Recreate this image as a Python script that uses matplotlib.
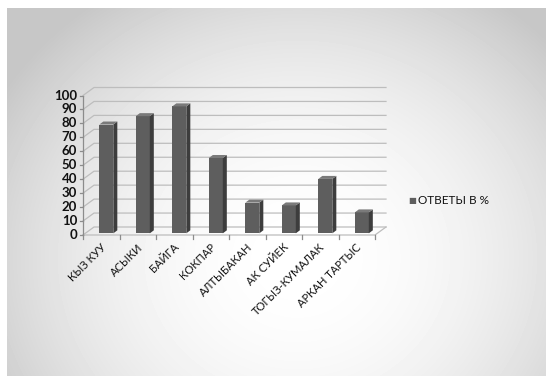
import numpy as np
import matplotlib
matplotlib.use("Agg")
import matplotlib.pyplot as plt
from matplotlib.patches import Polygon

categories = ["КЫЗ КУУ", "АСЫКИ", "БАЙГА", "КОКПАР", "АЛТЫБАКАН",
              "АК СУЙЕК", "ТОГЫЗ-КУМАЛАК", "АРКАН ТАРТЫС"]
values = [78, 84, 91, 54, 22, 20, 39, 15]
series_name = "ОТВЕТЫ В %"
y_ticks = list(range(0, 101, 10))

W, H = 546, 376
plt.rcParams['font.family'] = ['Lato', 'DejaVu Sans']

fig = plt.figure(figsize=(W / 100, H / 100), dpi=100)
fig.patch.set_facecolor('white')

# background panel with soft radial gradient
bg = fig.add_axes([7 / W, 0, 1 - 7 / W, 1 - 8 / H], zorder=-10)
yy, xx = np.mgrid[0:368, 0:539]
cx, cy = 290, 250
r = np.sqrt(((xx - cx) / 330.0) ** 2 + ((yy - cy) / 300.0) ** 2)
img = 1.0 - 0.20 * np.clip(r, 0, 1.3) ** 2
img = np.clip(img, 0.78, 1.0)
bg.imshow(img, cmap='gray', vmin=0, vmax=1, aspect='auto', interpolation='bilinear')
bg.set_axis_off()

# main axes: x in category units, y in value units
px_cat = 36.5
px_val = 1.395
x0_px, y0_px = 83, 235
DXp, DYp = 11, 8
DX = DXp / px_cat
DY = DYp / px_val
n = len(categories)
xlim = (-0.5, n - 0.5 + DX)
ylim = (0, 100 + DY)
ax_w = (xlim[1] - xlim[0]) * px_cat
ax_h = (ylim[1] - ylim[0]) * px_val
ax = fig.add_axes([x0_px / W, (H - y0_px) / H, ax_w / W, ax_h / H])
ax.set_xlim(*xlim)
ax.set_ylim(*ylim)
ax.patch.set_alpha(0)
for s in ax.spines.values():
    s.set_visible(False)
ax.set_xticks([])
ax.set_yticks([])

grid_c = '#bdbdbd'
L = -0.5
R = n - 0.5
for v in y_ticks:
    ax.plot([L, L + DX, R + DX], [v, v + DY, v + DY], color=grid_c, lw=0.9,
            zorder=1, clip_on=False)
# floor edges
ax.plot([L, R, R + DX], [0, 0, DY], color=grid_c, lw=0.9, zorder=1, clip_on=False)
# front vertical axis
ax.plot([L, L], [0, 100], color='#8c8c8c', lw=0.9, zorder=2, clip_on=False)
for v in y_ticks:
    ax.plot([L - 0.08, L], [v, v], color='#8c8c8c', lw=0.9, clip_on=False)
    ax.text(L - 0.16, v, str(v), ha='right', va='center', fontsize=9.5,
            color='#111111', fontweight='bold')
for k in range(n + 1):
    ax.plot([L + k, L + k], [0, -3], color='#8c8c8c', lw=0.9, clip_on=False)

# bars with 3D faces
front_c, side_c, top_c = '#5e5e5e', '#3d3d3d', '#7a7a7a'
bw = 14 / px_cat
boff = 1.2
sdx = 4 / px_cat
sdy = 3 / px_val
xs = np.arange(n) - 0.053
ax.bar(xs, values, width=bw, bottom=boff, align='edge', color=front_c,
       edgecolor='none', zorder=3)
for x, v in zip(xs, values):
    top = v + boff
    side = Polygon([[x + bw, boff], [x + bw + sdx, boff + sdy],
                    [x + bw + sdx, top + sdy], [x + bw, top]],
                   closed=True, facecolor=side_c, edgecolor='none', zorder=3)
    cap = Polygon([[x, top], [x + bw, top], [x + bw + sdx, top + sdy],
                   [x + sdx, top + sdy]], closed=True, facecolor=top_c,
                  edgecolor='none', zorder=3)
    ax.add_patch(side)
    ax.add_patch(cap)

for i, c in enumerate(categories):
    ax.text(i + 0.08, -7.5, c, rotation=45, ha='right', va='center',
            rotation_mode='anchor', fontsize=8, color='#111111')

# legend
ax.text(R + DX + 0.6, 100 - (200 - 95.5) / px_val, '■', ha='left', va='center',
        fontsize=6, color=front_c, transform=ax.transData, clip_on=False,
        family=['DejaVu Sans'])
ax.text(R + DX + 0.87, 100 - (200 - 95.5) / px_val, series_name, ha='left',
        va='center', fontsize=8.5, color='#111111', clip_on=False)

fig.savefig('out.png', dpi=100)
